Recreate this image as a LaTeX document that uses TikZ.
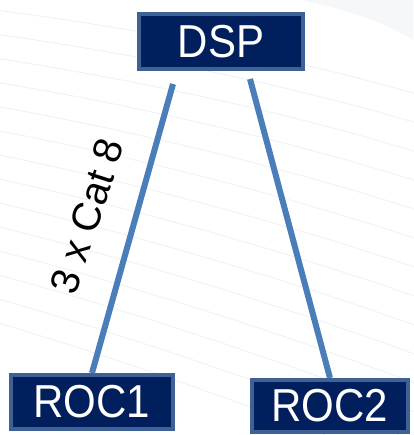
\documentclass[tikz,border=0pt]{standalone}
\usepackage{fontspec}
\usepackage{graphicx}
\setmainfont{Liberation Sans}
\usetikzlibrary{calc}
\definecolor{navy}{RGB}{0,31,92}
\definecolor{boxedge}{RGB}{62,98,150}
\definecolor{linkblue}{RGB}{74,126,187}
\definecolor{faint}{RGB}{240,241,244}
\newcommand{\tallertext}[1]{\scalebox{1}[1.1]{#1}}
\tikzset{
  unitbox/.style={draw=boxedge, fill=navy, line width=4pt, text=white,
    inner sep=0pt, font=\fontsize{42}{42}\selectfont},
  link/.style={draw=linkblue, line width=6pt},
  bgline/.style={draw=faint, line width=0.9pt}
}
\begin{document}
\begin{tikzpicture}[x=1pt,y=-1pt]
\useasboundingbox (0,0) rectangle (413,435);
% faint background texture
\foreach \i in {0,...,13}{
  \draw[bgline] (-5,{10+\i*24}) .. controls (150,{30+\i*26}) and (300,{60+\i*28}) .. (420,{95+\i*29});
}
\fill[faint, opacity=0.6] (300,0) .. controls (350,10) and (390,25) .. (413,40) -- (413,0) -- cycle;
% nodes
\node[unitbox, minimum width=164pt, minimum height=55pt] (dsp) at (221,41.5) {\tallertext{DSP}};
\node[unitbox, minimum width=162pt, minimum height=54pt] (roc1) at (92,402) {\tallertext{ROC1}};
\node[unitbox, minimum width=156pt, minimum height=52pt] (roc2) at (330,406) {\tallertext{ROC2}};
% connector start points below DSP
\coordinate (dl) at ($(dsp.south west)+(36,13)$);
\coordinate (dr) at ($(dsp.south east)+(-55,8)$);
\draw[link] (dl) -- (roc1.north);
\draw[link] (dr) -- (roc2.north);
% label
\node[rotate=72, font=\fontsize{40}{40}\selectfont, inner sep=0pt] (lbl) at (87,216) {3 x Cat 8};
\end{tikzpicture}
\end{document}
